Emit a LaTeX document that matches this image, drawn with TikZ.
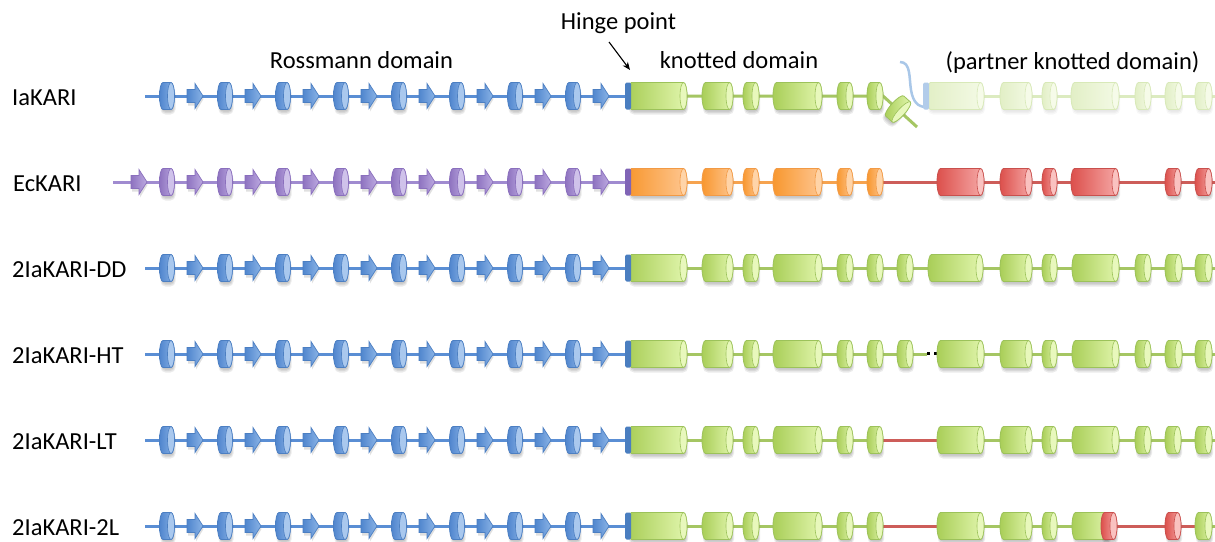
\documentclass[tikz,border=0pt]{standalone}
\usepackage{fontspec}
\setmainfont{Carlito}
\usetikzlibrary{arrows.meta}

% colour families: dark/light body shading, end face, outline, backbone
\definecolor{bluedark}{HTML}{5086CE}
\definecolor{bluelight}{HTML}{8AB3E6}
\definecolor{bluecap}{HTML}{A9C8EE}
\definecolor{blueedge}{HTML}{4C7FC2}
\definecolor{blueline}{HTML}{5A8ED4}
\definecolor{greendark}{HTML}{A9CE58}
\definecolor{greenlight}{HTML}{E2F6AE}
\definecolor{greencap}{HTML}{E8F8BC}
\definecolor{greenedge}{HTML}{9CC25A}
\definecolor{greenline}{HTML}{A5C663}
\definecolor{orangedark}{HTML}{F8972F}
\definecolor{orangelight}{HTML}{FEC792}
\definecolor{orangecap}{HTML}{FFD4A8}
\definecolor{orangeedge}{HTML}{F29A45}
\definecolor{orangeline}{HTML}{F6A34F}
\definecolor{reddark}{HTML}{DC504C}
\definecolor{redlight}{HTML}{F6AAA8}
\definecolor{redcap}{HTML}{FAC2C0}
\definecolor{rededge}{HTML}{C9504D}
\definecolor{redline}{HTML}{CD5D59}
\definecolor{purpledark}{HTML}{8E73C0}
\definecolor{purplelight}{HTML}{BCA9E0}
\definecolor{purplecap}{HTML}{CFC2EA}
\definecolor{purpleedge}{HTML}{8A6FBD}
\definecolor{purpleline}{HTML}{A08BD0}
\definecolor{paledark}{HTML}{E2EFC6}
\definecolor{palelight}{HTML}{F4FAE6}
\definecolor{palecap}{HTML}{F6FBE9}
\definecolor{paleedge}{HTML}{D8E9B8}
\definecolor{paleline}{HTML}{DCEBC0}
\definecolor{hingeblue}{HTML}{4A7EC0}
\definecolor{hingepurple}{HTML}{8064B6}
\definecolor{hingepale}{HTML}{B2CCEA}
\definecolor{tether}{HTML}{A9C7E8}

% helix: horizontal cylinder from x1 to x2 centred on y
% \helix[shadow opacity]{family}{x1}{x2}{y}
\newcommand{\helix}[5][0.08]{%
  \fill[black,opacity=#1,rounded corners=5] (#3+1,#5-8) rectangle (#4+1,#5+18.5);
  \fill[black,opacity=#1,rounded corners=4] (#3+2,#5-8) rectangle (#4,#5+17);
  \fill[black,opacity=#1,rounded corners=3] (#3+3,#5-8) rectangle (#4-1,#5+15.5);
  \draw[left color=#2dark,right color=#2light,draw=#2edge,line width=0.8pt]
    (#3+3.5,#5-13.5) -- (#4-3.5,#5-13.5)
    arc[start angle=-90,end angle=90,x radius=3.5,y radius=13.5]
    -- (#3+3.5,#5+13.5)
    arc[start angle=90,end angle=270,x radius=3.5,y radius=13.5] -- cycle;
  \draw[fill=#2cap,draw=#2edge,line width=0.6pt]
    (#4-3.5,#5) ellipse [x radius=3.5,y radius=13.5];
}

% strand: block arrow centred on (cx,y)
\newcommand{\strand}[3]{%
  \begin{scope}[shift={(#2,#3)}]
    \fill[black,opacity=0.12] (-7,-3.5) -- (1,-3.5) -- (1,-9.5) -- (8.5,3)
      -- (1,15.5) -- (1,9.5) -- (-7,9.5) -- cycle;
    \draw[left color=#1dark,right color=#1light,draw=#1edge,line width=0.7pt]
      (-8,-6.5) -- (0,-6.5) -- (0,-12.5) -- (8,0) -- (0,12.5) -- (0,6.5)
      -- (-8,6.5) -- cycle;
  \end{scope}
}

% Rossmann fold: alternating helices and strands
\newcommand{\rossmann}[2]{%
  \foreach \c in {167,225,283,341,399,457,515,573}{%
    \helix{#1}{\c-7.5}{\c+7.5}{#2}
    \strand{#1}{\c+28}{#2}
  }
}

% hinge marker at the start of the knotted domain
\newcommand{\hingecap}[3][628]{%
  \fill[#2,rounded corners=1.5] (#1-3,#3-13.5) rectangle (#1+3,#3+13.5);
}

\begin{document}
\begin{tikzpicture}[x=1pt,y=-1pt,
    font=\fontsize{24.5}{29}\selectfont,
    lbl/.style={inner sep=0pt,anchor=base},
    rowlbl/.style={inner sep=0pt,anchor=base west},
    bb/.style={line width=3pt}]
\useasboundingbox (0,0) rectangle (1215,541);
\fill[white] (0,0) rectangle (1215,541);

% headings
\node[lbl] (hinge) at (618.5,29) {Hinge point};
\node[lbl] (ross) at (361.5,68) {Rossmann domain};
\node[lbl] (knot) at (739,68) {knotted domain};
\node[lbl] (partner) at (1072.5,69) {(partner knotted domain)};
\coordinate (hingetail) at (609,42);
\coordinate (hingetip) at (630,70);
\draw[line width=1.1pt,-{Stealth[length=8pt,width=6.5pt]}] (hingetail) -- (hingetip);

% row labels
\node[rowlbl] (r1) at (12,105) {IaKARI};
\node[rowlbl] (r2) at (13,191) {EcKARI};
\node[rowlbl] (r3) at (12,277) {2IaKARI-DD};
\node[rowlbl] (r4) at (12,363) {2IaKARI-HT};
\node[rowlbl] (r5) at (12,449) {2IaKARI-LT};
\node[rowlbl] (r6) at (12,535) {2IaKARI-2L};

% ---------------- IaKARI ----------------
\draw[bb,blueline] (145,96) -- (628,96);
\draw[bb,greenline] (628,96) -- (883,96) -- (917,127);
\draw[bb,paleline] (927,96) -- (1215,96);
\draw[line width=2.5pt,tether] (900,62) .. controls (911,62) and (909,78) .. (911,90)
  .. controls (913,102) and (918,107) .. (926,107);
\rossmann{blue}{96}
\foreach \a/\b in {628/687,702/733,743/759,773/822,837/853,867/883}
  {\helix{green}{\a}{\b}{96}}
\begin{scope}[shift={(898,109)},rotate=-42]
  \helix{green}{-8}{8}{0}
\end{scope}
\hingecap{hingeblue}{96}
\foreach \a/\b in {927/984,1000/1032,1042/1057,1071/1119,1135/1151,1165/1182,1195/1212}
  {\helix[0.03]{pale}{\a}{\b}{96}}
\hingecap[926]{hingepale}{96}

% ---------------- EcKARI ----------------
\draw[bb,purpleline] (113,182) -- (628,182);
\draw[bb,orangeline] (628,182) -- (883,182);
\draw[bb,redline] (883,182) -- (1215,182);
\strand{purple}{139}{182}
\rossmann{purple}{182}
\foreach \a/\b in {628/687,702/733,743/759,773/822,837/853,867/883}
  {\helix{orange}{\a}{\b}{182}}
\hingecap{hingepurple}{182}
\foreach \a/\b in {937/984,1000/1032,1042/1057,1071/1119,1165/1181,1195/1212}
  {\helix{red}{\a}{\b}{182}}

% ---------------- 2IaKARI-DD ----------------
\draw[bb,blueline] (145,268) -- (628,268);
\draw[bb,greenline] (628,268) -- (1215,268);
\rossmann{blue}{268}
\foreach \a/\b in {628/687,702/733,743/759,773/822,837/853,867/883,897/913,
                   928/983,1000/1032,1042/1057,1072/1119,1135/1151,1165/1182,1195/1212}
  {\helix{green}{\a}{\b}{268}}
\hingecap{hingeblue}{268}

% ---------------- 2IaKARI-HT ----------------
\draw[bb,blueline] (145,354) -- (628,354);
\draw[bb,greenline] (628,354) -- (927,354);
\draw[bb,greenline] (937,354) -- (1215,354);
\fill[black] (926.7,351.8) rectangle (930.2,355.3);
\fill[black] (933.5,351.8) rectangle (937,355.3);
\rossmann{blue}{354}
\foreach \a/\b in {628/687,702/733,743/759,773/822,837/853,867/883,897/913,
                   937/984,1000/1032,1042/1057,1072/1119,1135/1151,1165/1182,1195/1212}
  {\helix{green}{\a}{\b}{354}}
\hingecap{hingeblue}{354}

% ---------------- 2IaKARI-LT ----------------
\draw[bb,blueline] (145,440) -- (628,440);
\draw[bb,greenline] (628,440) -- (883,440);
\draw[bb,redline] (883,440) -- (937,440);
\draw[bb,greenline] (937,440) -- (1215,440);
\rossmann{blue}{440}
\foreach \a/\b in {628/687,702/733,743/759,773/822,837/853,867/883,
                   937/984,1000/1032,1042/1057,1072/1119,1135/1151,1165/1181,1195/1212}
  {\helix{green}{\a}{\b}{440}}
\hingecap{hingeblue}{440}

% ---------------- 2IaKARI-2L ----------------
\draw[bb,blueline] (145,526) -- (628,526);
\draw[bb,greenline] (628,526) -- (883,526);
\draw[bb,redline] (883,526) -- (937,526);
\draw[bb,greenline] (937,526) -- (1102,526);
\draw[bb,redline] (1102,526) -- (1195,526);
\draw[bb,greenline] (1195,526) -- (1215,526);
\rossmann{blue}{526}
\foreach \a/\b in {628/687,702/733,743/759,773/822,837/853,867/883,
                   937/984,1000/1032,1042/1057,1072/1110,1195/1212}
  {\helix{green}{\a}{\b}{526}}
\foreach \a/\b in {1101/1117,1165/1181}
  {\helix{red}{\a}{\b}{526}}
\hingecap{hingeblue}{526}

\end{tikzpicture}
\end{document}
